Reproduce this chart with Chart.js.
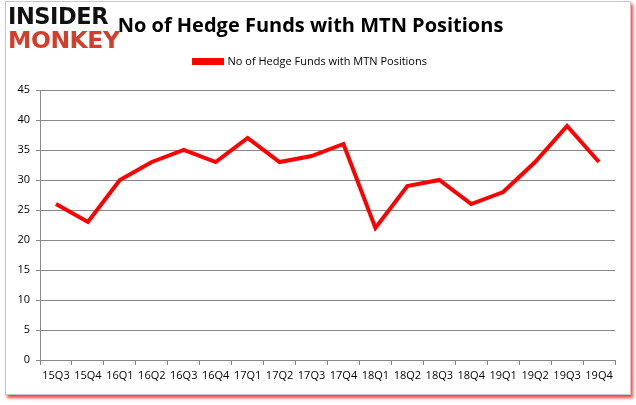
<!DOCTYPE html>
<html>
<head>
<meta charset="utf-8">
<script src="https://cdn.jsdelivr.net/npm/chart.js@4"></script>
<style>
  html, body { margin: 0; padding: 0; background: #fff; }
  #wrap { position: relative; width: 636px; height: 405px; overflow: hidden; }
  #frame { position: absolute; left: 5px; top: 1px; width: 624px; height: 392px; border: 1px solid #c8c8c8; box-shadow: 2px 3px 3px rgba(255,0,0,0.75); background: #fff; }
  canvas { position: absolute; left: 0; top: 0; }
  .logo { position: absolute; left: 8px; font-family: "DejaVu Sans", sans-serif; font-weight: 900; letter-spacing: -0.5px; transform-origin: left top; white-space: nowrap; }
  #l1 { top: 3px; color: #111; font-size: 25px; transform: scale(0.9, 0.92); }
  #l2 { top: 27px; color: #d63c2a; font-size: 25px; transform: scale(0.94, 0.92); }
</style>
</head>
<body>
<div id="wrap">
  <div id="frame"></div>
  <canvas id="c" width="636" height="405"></canvas>
  <div class="logo" id="l1">INSIDER</div>
  <div class="logo" id="l2">MONKEY</div>
</div>
<script>
const categories = ["15Q3","15Q4","16Q1","16Q2","16Q3","16Q4","17Q1","17Q2","17Q3","17Q4","18Q1","18Q2","18Q3","18Q4","19Q1","19Q2","19Q3","19Q4"];
const fundCounts = [26,23,30,33,35,33,37,33,34,36,22,29,30,26,28,33,39,33];
const seriesName = "No of Hedge Funds with MTN Positions";
const chartTitle = "No of Hedge Funds with MTN Positions";
const yTicks = [0,5,10,15,20,25,30,35,40,45];

const tickFont = { family: "'Open Sans', 'DejaVu Sans', sans-serif", size: 11 };

const legendMargin = {
  id: 'legendMargin',
  beforeInit(chart) {
    const orig = chart.legend.fit;
    chart.legend.fit = function () { orig.bind(chart.legend)(); this.height += 13; };
  }
};

new Chart(document.getElementById('c'), {
  type: 'line',
  data: {
    labels: categories,
    datasets: [{
      label: seriesName,
      data: fundCounts,
      borderColor: '#ff0000',
      backgroundColor: '#ff0000',
      borderWidth: 4,
      pointRadius: 0,
      tension: 0,
      borderJoinStyle: 'miter'
    }]
  },
  plugins: [legendMargin],
  options: {
    responsive: false,
    animation: false,
    devicePixelRatio: 1,
    layout: { padding: { left: 6, right: 21, top: 14, bottom: 14 } },
    plugins: {
      title: {
        display: true,
        text: chartTitle,
        color: '#000',
        font: { family: "'Open Sans', 'DejaVu Sans', sans-serif", size: 20, weight: 'bold' },
        padding: { top: 0, bottom: 10 }
      },
      legend: {
        display: true,
        labels: {
          color: '#000',
          font: tickFont,
          boxWidth: 28,
          boxHeight: 3,
          padding: 8
        }
      },
      tooltip: { enabled: false }
    },
    scales: {
      x: {
        offset: true,
        grid: { display: true, offset: true, drawOnChartArea: false, tickLength: 5, color: '#888' },
        border: { color: '#888' },
        ticks: { color: '#000', font: tickFont, maxRotation: 0, autoSkip: false, padding: 4 },
        afterFit: s => { s.height = 31; }
      },
      y: {
        min: 0, max: 45,
        afterBuildTicks: s => { s.ticks = yTicks.map(v => ({ value: v })); },
        grid: { color: '#888', tickLength: 4 },
        border: { color: '#888' },
        ticks: { color: '#000', font: tickFont, padding: 6 },
        afterFit: s => { s.width = 34; }
      }
    }
  }
});
</script>
</body>
</html>
